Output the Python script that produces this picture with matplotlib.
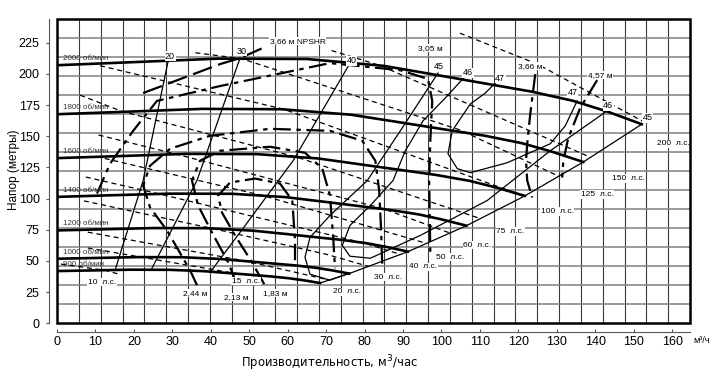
import matplotlib
matplotlib.use("Agg")
import matplotlib.pyplot as plt
from matplotlib.patches import Rectangle

plt.rcParams["font.family"] = ["Liberation Sans", "DejaVu Sans"]

# grid of the original sheet: 25 US gpm x 50 ft, shown in m3/h and m
GRID_X = 5.678
GRID_Y = 15.24
X_MAX = 29 * GRID_X
Y_MAX = 16 * GRID_Y

# head curves, Q in m3/h, H in m
speed_labels = ["2000 об/мин", "1800 об/мин", "1600 об/мин", "1400 об/мин",
                "1200 об/мин", "1000 об/мин", "900 об/мин"]
q_2000 = [0, 20, 42, 65, 85, 100, 112, 123.5, 134.3, 143, 152.1]
h_2000 = [207, 209.5, 212.3, 212, 206.5, 198.5, 192, 185.8, 178.4, 170, 159.7]
q_1800 = [0, 18, 37.8, 58.5, 76.5, 90, 100.8, 111.2, 120.9, 128.7, 136.9]
h_1800 = [167.7, 169.7, 172, 171.7, 167.3, 160.8, 155.5, 150.5, 144.5, 137.7, 129.4]
q_1600 = [0, 16, 33.6, 52, 68, 80, 89.6, 98.8, 107.4, 114.4, 121.7]
h_1600 = [132.5, 134.1, 135.9, 135.7, 132.2, 127, 122.9, 118.9, 114.2, 108.8, 102.2]
q_1400 = [0, 14, 29.4, 45.5, 59.5, 70, 78.4, 86.5, 94, 100.1, 106.5]
h_1400 = [101.4, 102.7, 104, 103.9, 101.2, 97.3, 94.1, 91, 87.4, 83.3, 78.3]
q_1200 = [0, 12, 25.2, 39, 51, 60, 67.2, 74.1, 80.6, 85.8, 91.3]
h_1200 = [74.5, 75.4, 76.4, 76.3, 74.3, 71.5, 69.1, 66.9, 64.2, 61.2, 57.5]
q_1000 = [0, 10, 21, 32.5, 42.5, 50, 56, 61.8, 67.2, 71.5, 76]
h_1000 = [51.8, 52.4, 53.1, 53, 51.6, 49.6, 48, 46.5, 44.6, 42.5, 39.9]
q_900 = [0, 9, 18.9, 29.3, 38.3, 45, 50.4, 55.6, 60.4, 64.4, 68.4]
h_900 = [41.9, 42.4, 43, 42.9, 41.8, 40.2, 38.9, 37.6, 36.1, 34.4, 32.3]

# line through the curve ends
end_q = [68.4, 76, 91.3, 106.5, 121.7, 136.9, 152.1]
end_h = [32.3, 39.9, 57.5, 78.3, 102.2, 129.4, 159.7]

# efficiency lines (%)
eff_q = {
    "20": [28.9, 22.4, 15.1],
    "30": [47.6, 36.4, 24.7],
    "40": [75.7, 61.4, 47.6, 39.8],
    "45": [99.1, 89.3, 80.7, 71.0, 65.8, 64.5, 65.8, 71.0, 76.0],
    "46": [106.7, 101.0, 95.2, 90.6, 87.4, 81.5, 76.2, 74.2, 76.2, 81.5, 94.5,
           111.9, 128.3, 143.1],
    "47": [115.3, 111.4, 107.5, 102.8, 101.7, 104.1, 107.5, 117.1, 128.3, 132.2,
           135.3],
}
eff_h = {
    "20": [210.3, 114.5, 42.6],
    "30": [212.7, 114.5, 44.2],
    "40": [206, 130.4, 72.9, 40.8],
    "45": [200.7, 154.4, 114.5, 86.5, 68.9, 53, 39.4, 34.6, 40.2],
    "46": [199.9, 180.7, 162.4, 138.4, 114.5, 94.5, 78.5, 62.5, 53.8, 52.2, 70.5,
           98.5, 138.4, 170.4],
    "47": [196.7, 184.7, 175.9, 154.4, 136, 124.1, 120.8, 128.8, 144, 158.4, 178.4],
}
eff_label_pos = [("20", 29.4, 214.3), ("30", 48.1, 218.3), ("40", 76.7, 210.7),
                 ("45", 99.4, 205.9), ("46", 106.9, 201), ("47", 115.3, 196.5),
                 ("47", 134.1, 185), ("46", 143.4, 174.4), ("45", 153.6, 165)]

# power lines (hp)
hp_q = {
    10: [1, 12.4, 16],
    15: [8, 22, 46.8],
    20: [8, 49.5, 70.8],
    30: [7, 40.8, 70, 81.2],
    40: [7.5, 26.3, 79.8, 89.4],
    50: [10.2, 53.9, 96.2],
    60: [10.8, 30.8, 84.7, 102.3],
    75: [6, 16.8, 62.4, 110.2],
    100: [11.2, 59, 119.2, 121.3],
    125: [36, 48, 104.9, 130.6],
    150: [71.4, 84, 138.8],
    200: [104.8, 125, 152.8],
}
hp_h = {
    10: [47.5, 42.6, 39.5],
    15: [60.4, 53, 39.8],
    20: [73.1, 49.7, 34.7],
    30: [98.2, 75.8, 55.4, 45.5],
    40: [117.3, 104, 64.4, 55.2],
    50: [133.8, 102.2, 64],
    60: [151, 135.9, 92.1, 72.3],
    75: [183, 170.1, 133.3, 83.9],
    100: [206.6, 171.7, 104.6, 101.7],
    125: [217, 212.3, 155, 117.8],
    150: [218.8, 206.8, 133.1],
    200: [232.7, 207.8, 161.3],
}
hp_label_pos = {10: (11.7, 33), 15: (49.2, 33.8), 20: (75.5, 25.2), 30: (86.1, 37),
                40: (95.2, 45.2), 50: (102.3, 53), 60: (109.3, 62.5),
                75: (117.9, 73.7), 100: (130.1, 89.7), 125: (140.5, 103.3),
                150: (148.6, 116.1), 200: (160.3, 143.9)}

# NPSHR lines, m
npsh_q = {
    "3,05 м": [10.4, 13.8, 19.8, 26.0, 42.4, 71.0, 89.3, 96.5, 97.6, 97.1, 96.8, 97.1],
    "3,66 м L": [22.4, 42.4, 47.6, 54.6],
    "3,66 м": [124.4, 123.1, 122.3, 122.0, 122.3, 123.6],
    "4,57 м": [140.5, 136.1, 133.0, 131.7, 131.4],
    "2,44 м": [36.4, 34.6, 28.6, 24.2, 22.4, 24.2, 29.4, 39.8, 55.4, 71.0, 79.4,
               82.8, 83.8, 84.3, 84.6],
    "2,13 м": [46.8, 44.5, 40.3, 36.7, 35.1, 37.2, 42.4, 55.4, 64.5, 69.0, 71.0,
               71.8, 72.3],
    "1,83 м": [53.9, 50.7, 46.3, 42.9, 41.9, 45.0, 51.5, 58.0, 61.2, 61.9, 61.9],
}
npsh_h = {
    "3,05 м": [104.1, 128, 154.4, 178.4, 190.3, 208.7, 203, 196, 178.4, 146.4, 114.5,
               56.9],
    "3,66 м L": [184.7, 207.9, 212.7, 222.3],
    "3,66 м": [199.9, 168, 144, 130.4, 114.5, 100.9],
    "4,57 м": [195.1, 172.8, 148.8, 130.4, 116.9],
    "2,44 м": [30.6, 42.6, 74.5, 92.9, 110.5, 126.4, 140, 150.4, 156, 154.4, 146.4,
               130.4, 106.5, 74.5, 45.8],
    "2,13 м": [31.4, 49, 72.9, 94.5, 114.5, 130.4, 138.4, 141.6, 136.8, 124.1, 102.5,
               70.5, 44.2],
    "1,83 м": [31.4, 49, 70.5, 88.9, 102.5, 112.9, 116.1, 112.1, 98.5, 66.5, 50.6],
}
npsh_label_pos = [("3,05 м", 97.1, 220.7), ("3,66 м", 123.1, 206.3),
                  ("4,57 м", 141.3, 199.0), ("2,44 м", 35.9, 24.2),
                  ("2,13 м", 46.6, 21.0), ("1,83 м", 56.7, 24.2)]

x_ticks = list(range(0, 161, 10))
y_ticks = list(range(0, 226, 25))

fig = plt.figure(figsize=(7.2, 3.8), dpi=100)
ax = fig.add_axes([0.0792, 0.1492, 0.8792, 0.80])
ax.set_xlim(0, X_MAX)
ax.set_ylim(0, Y_MAX)

for i in range(1, 29):
    ax.axvline(i * GRID_X, color="#3a3a3a", lw=0.8, zorder=1)
for i in range(1, 16):
    ax.axhline(i * GRID_Y, color="#808080", lw=1.1, zorder=1)
ax.add_patch(Rectangle((0, 0), 1, 1, transform=ax.transAxes, fill=False,
                       lw=1.8, color="black", zorder=6, clip_on=False))

curves = [(q_2000, h_2000), (q_1800, h_1800), (q_1600, h_1600), (q_1400, h_1400),
          (q_1200, h_1200), (q_1000, h_1000), (q_900, h_900)]
for (q, h), lab in zip(curves, speed_labels):
    ax.plot(q, h, color="black", lw=1.9, zorder=4)
    ax.text(1.5, h[0] + 2.5, lab, fontsize=5.8, color="#333333", va="bottom",
            zorder=5)
ax.plot(end_q, end_h, color="black", lw=0.9, zorder=3)

white = dict(fc="white", ec="none", pad=0.4)
for key in eff_q:
    ax.plot(eff_q[key], eff_h[key], color="black", lw=0.9, zorder=3)
for lab, x, y in eff_label_pos:
    ax.text(x, y, lab, fontsize=6.5, ha="center", va="center", bbox=white, zorder=5)

for hp in hp_q:
    ax.plot(hp_q[hp], hp_h[hp], color="black", lw=0.9, ls=(0, (4, 3)), zorder=3)
    x, y = hp_label_pos[hp]
    ax.text(x, y, f"{hp}  л.с.", fontsize=6, ha="center", va="center", bbox=white,
            zorder=5)

for key in npsh_q:
    style = (0, (9, 3)) if key == "3,66 м L" else (0, (8, 2.5, 2, 2.5))
    ax.plot(npsh_q[key], npsh_h[key], color="black", lw=1.6, ls=style, zorder=3)
for lab, x, y in npsh_label_pos:
    ax.text(x, y, lab, fontsize=6, ha="center", va="center", bbox=white, zorder=5)
ax.text(55.4, 226.3, "3,66 м NPSHR", fontsize=6, ha="left", va="center",
        bbox=white, zorder=5)

for side in ["top", "right"]:
    ax.spines[side].set_visible(False)
ax.spines["left"].set_position(("outward", 5.8))
ax.spines["bottom"].set_position(("outward", 6.5))
ax.spines["left"].set_color("#555555")
ax.spines["bottom"].set_color("#555555")
ax.set_xticks(x_ticks)
ax.set_yticks(y_ticks)
ax.tick_params(axis="x", labelsize=9, length=2.5, direction="in", color="#555555",
               pad=3)
ax.tick_params(axis="y", labelsize=9, length=2.2, color="#555555", pad=4.5)

fig.text(0.0194, 0.553, "Напор (метры)", rotation=90, fontsize=8.5,
         ha="center", va="center")
fig.text(0.457, 0.045, "Производительность, м$^3$/час", fontsize=9.3,
         ha="center", va="center", family="DejaVu Sans", stretch="condensed")
fig.text(0.975, 0.103, "м³/ч", fontsize=6.5, ha="center", va="center")

fig.savefig("out.png", dpi=100)
